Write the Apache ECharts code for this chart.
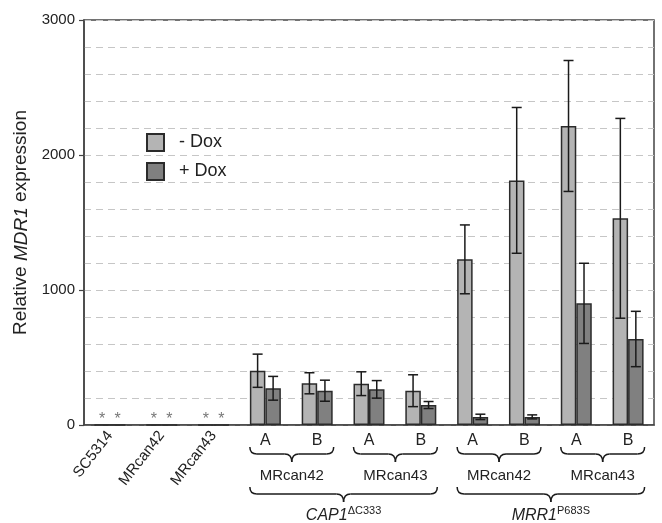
<!DOCTYPE html>
<html>
<head>
<meta charset="utf-8">
<script src="https://cdn.jsdelivr.net/npm/echarts@6/dist/echarts.min.js"></script>
<style>html,body{margin:0;padding:0;background:#fff}#c{width:662px;height:523px}</style>
</head>
<body>
<div id="c"></div>
<script>
const categories = ['SC5314','MRcan42','MRcan43','A','B','A','B','A','B','A','B'];
const minusDox = [0,0,0,402,309,306,254,1227,1812,2215,1531];
const plusDox  = [0,0,0,272,254,264,148,60,60,901,637];
const minusErr = [0,0,0,123,78,88,118,255,540,485,740];
const plusErr  = [0,0,0,88,78,65,26,20,15,297,205];
const yTicks = [0,1000,2000,3000];
const strainGroups = [
  {label:'MRcan42', from:3, to:4},
  {label:'MRcan43', from:5, to:6},
  {label:'MRcan42', from:7, to:8},
  {label:'MRcan43', from:9, to:10}
];
const constructGroups = [
  {label:'CAP1', sup:'\u0394C333', from:3, to:6},
  {label:'MRR1', sup:'P683S', from:7, to:10}
];

const FONT = '"Liberation Sans", Arial, Helvetica, sans-serif';
const BW = 15.5;
const LIGHT = '#b4b4b4', DARK = '#808080', EDGE = '#2b2b2b';

const chart = echarts.init(document.getElementById('c'), null, {renderer:'canvas'});

const errData = [];
for (let i = 0; i < categories.length; i++) {
  errData.push([i, minusDox[i], minusErr[i], -1]);
  errData.push([i, plusDox[i], plusErr[i], 1]);
}

const option = {
  animation: false,
  backgroundColor: '#fff',
  textStyle: {fontFamily: FONT},
  grid: {left: 84, right: 8, top: 20, bottom: 98, show: true, borderColor: '#444', borderWidth: 1.5, backgroundColor: 'transparent'},
  legend: {
    data: ['- Dox', '+ Dox'], orient: 'vertical', left: 146, top: 133, padding: 0,
    itemWidth: 17, itemHeight: 17, itemGap: 10, icon: 'rect',
    textStyle: {fontFamily: FONT, fontSize: 18, color: '#222', padding: [0,0,0,10]}
  },
  xAxis: [
    {
      type: 'category', data: categories, boundaryGap: true,
      axisLine: {show: true, lineStyle: {color: '#444', width: 1.5}},
      axisTick: {show: false},
      axisLabel: {
        interval: 0, rotate: 52, margin: 8, fontSize: 15, color: '#222', fontFamily: FONT,
        formatter: (v, i) => i < 3 ? v : ''
      }
    },
    {
      type: 'category', data: categories, position: 'bottom', boundaryGap: true,
      axisLine: {show: false}, axisTick: {show: false}, splitLine: {show: false},
      axisLabel: {
        interval: 0, margin: 8, fontSize: 16, color: '#222', fontFamily: FONT,
        formatter: (v, i) => i >= 3 ? v : ''
      }
    }
  ],
  yAxis: {
    type: 'value', min: yTicks[0], max: yTicks[yTicks.length-1], interval: 1000,
    axisLine: {show: true, lineStyle: {color: '#444', width: 1.5}},
    axisTick: {show: true, length: 5, lineStyle: {color: '#444', width: 1.2}},
    axisLabel: {fontSize: 15, color: '#222', margin: 9, fontFamily: FONT, formatter: v => String(v)},
    splitLine: {show: true, lineStyle: {color: '#c6c6c6', type: [7,5], width: 1}},
    minorTick: {show: false, splitNumber: 5},
    minorSplitLine: {show: true, lineStyle: {color: '#c6c6c6', type: [7,5], width: 1}},
    name: '{a|Relative }{b|MDR1}{a| expression}',
    nameLocation: 'middle', nameGap: 45, nameRotate: 90,
    nameTextStyle: {
      fontFamily: FONT, fontSize: 19, color: '#222',
      rich: {a: {fontFamily: FONT, fontSize: 19, color: '#222'}, b: {fontFamily: FONT, fontSize: 19, fontStyle: 'italic', color: '#222'}}
    }
  },
  series: [
    {
      name: '- Dox', type: 'bar', data: minusDox, barWidth: BW, barGap: '0%',
      itemStyle: {color: LIGHT, borderColor: EDGE, borderWidth: 1.5},
      label: {show: true, position: 'top', distance: -3, fontSize: 16, color: '#777',
        formatter: p => p.dataIndex < 3 ? '*' : ''}
    },
    {
      name: '+ Dox', type: 'bar', data: plusDox, barWidth: BW, barGap: '0%',
      itemStyle: {color: DARK, borderColor: EDGE, borderWidth: 1.5},
      label: {show: true, position: 'top', distance: -3, fontSize: 16, color: '#777',
        formatter: p => p.dataIndex < 3 ? '*' : ''}
    },
    {
      name: 'err', type: 'custom', data: errData, z: 10,
      encode: {x: 0, y: 1},
      renderItem: function (params, api) {
        const i = api.value(0), v = api.value(1), e = api.value(2), side = api.value(3);
        if (!e) return null;
        const t = api.coord([i, v + e]);
        const b = api.coord([i, v - e]);
        const x = t[0] + side * BW / 2;
        const cw = 5;
        const st = {stroke: '#1a1a1a', lineWidth: 1.5};
        return {type: 'group', children: [
          {type: 'line', shape: {x1: x, y1: t[1], x2: x, y2: b[1]}, style: st},
          {type: 'line', shape: {x1: x - cw, y1: t[1], x2: x + cw, y2: t[1]}, style: st},
          {type: 'line', shape: {x1: x - cw, y1: b[1], x2: x + cw, y2: b[1]}, style: st}
        ]};
      }
    }
  ]
};
chart.setOption(option);

const BST = {fill: 'none', stroke: '#1a1a1a', lineWidth: 1.5};
function brace(x1, x2, y0, y1, y2) {
  const xm = (x1 + x2) / 2, r = 7;
  return [
    {type: 'bezierCurve', shape: {x1: x1, y1: y0, x2: x1 + r, y2: y1, cpx1: x1, cpy1: y1}, style: BST},
    {type: 'line', shape: {x1: x1 + r, y1: y1, x2: xm - r, y2: y1}, style: BST},
    {type: 'bezierCurve', shape: {x1: xm - r, y1: y1, x2: xm, y2: y2, cpx1: xm, cpy1: y1}, style: BST},
    {type: 'bezierCurve', shape: {x1: xm, y1: y2, x2: xm + r, y2: y1, cpx1: xm, cpy1: y1}, style: BST},
    {type: 'line', shape: {x1: xm + r, y1: y1, x2: x2 - r, y2: y1}, style: BST},
    {type: 'bezierCurve', shape: {x1: x2 - r, y1: y1, x2: x2, y2: y0, cpx1: x2, cpy1: y1}, style: BST}
  ];
}

const px = i => chart.convertToPixel({xAxisIndex: 0}, i);
let graphics = [];
strainGroups.forEach(g => {
  const x1 = px(g.from) - BW, x2 = px(g.to) + BW + 1;
  graphics = graphics.concat(brace(x1, x2, 447, 454, 462));
  graphics.push({type: 'text', x: (x1 + x2) / 2, y: 476,
    style: {text: g.label, fontFamily: FONT, fontSize: 15, fill: '#222', align: 'center', verticalAlign: 'middle'}});
});
constructGroups.forEach(g => {
  const x1 = px(g.from) - BW, x2 = px(g.to) + BW + 1;
  graphics = graphics.concat(brace(x1, x2, 487, 494, 502));
  graphics.push({type: 'text', x: (x1 + x2) / 2, y: 516,
    style: {text: '{i|' + g.label + '}{s|' + g.sup + '}', fontFamily: FONT, align: 'center', verticalAlign: 'middle',
      rich: {
        i: {fontFamily: FONT, fontSize: 16, fontStyle: 'italic', fill: '#222', lineHeight: 22},
        s: {fontFamily: FONT, fontSize: 11, fill: '#222', verticalAlign: 'top', lineHeight: 12}
      }}});
});
chart.setOption({graphic: graphics});
</script>
</body>
</html>
